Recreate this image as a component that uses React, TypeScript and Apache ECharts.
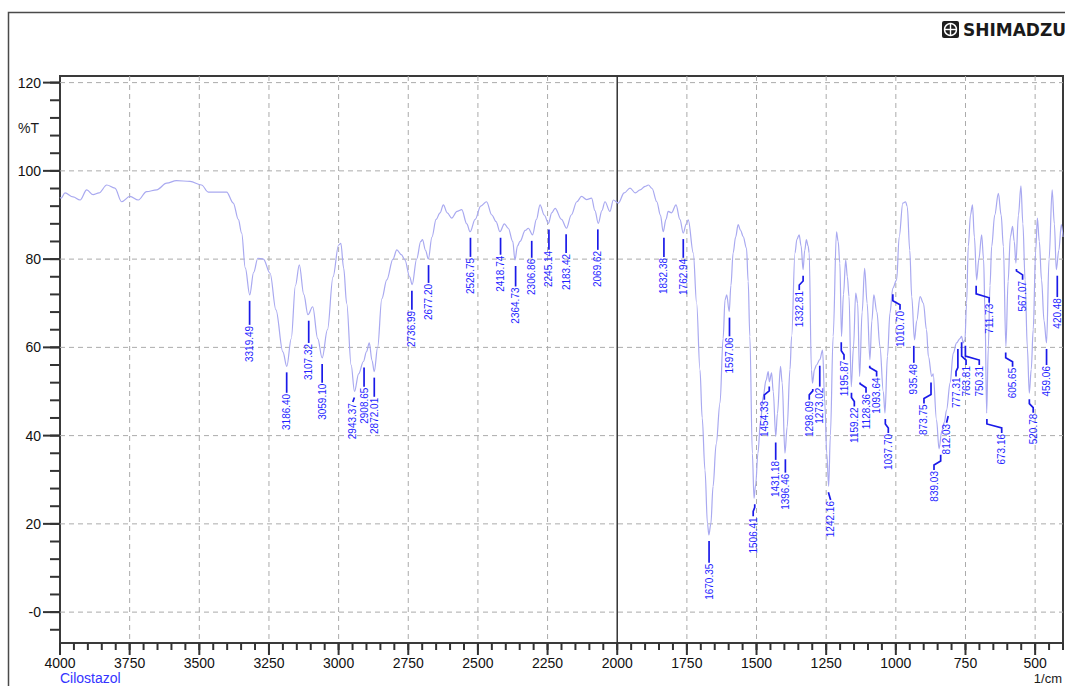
import React, { useEffect, useRef } from 'react';
import * as echarts from 'echarts';

// ---- Spectrum (wavenumber 1/cm, %T) ----
const spectrum: [number, number][] = [
  [4000, 94.0], [3996, 93.8], [3982, 95.0], [3953, 94.1], [3928, 93.4], [3904, 95.7], [3881, 94.6], [3860, 95.0],
  [3832, 96.8], [3803, 96.1], [3779, 93.0], [3749, 94.2], [3719, 93.4], [3689, 95.3], [3653, 95.7], [3617, 97.2],
  [3582, 97.8], [3533, 97.6], [3492, 96.8], [3468, 95.2], [3402, 95.2], [3378, 92.7], [3360, 89.0], [3348, 85.9],
  [3335, 78.0], [3319, 71.9], [3305, 77.0], [3290, 80.2], [3270, 80.0], [3246, 76.8], [3225, 68.5], [3200, 59.0],
  [3186, 55.7], [3170, 62.0], [3155, 74.0], [3141, 78.7], [3125, 72.0], [3110, 67.4], [3093, 69.2], [3075, 62.0],
  [3059, 57.6], [3040, 64.0], [3020, 76.0], [3000, 83.2], [2992, 83.6], [2982, 78.0], [2971, 70.0], [2955, 56.0],
  [2943, 50.0], [2928, 54.0], [2911, 56.8], [2900, 59.0], [2890, 61.0], [2880, 57.0], [2872, 54.5], [2860, 60.0],
  [2845, 71.0], [2827, 75.3], [2805, 80.0], [2791, 82.1], [2775, 81.0], [2762, 79.8], [2745, 76.0], [2736, 74.2],
  [2720, 80.0], [2705, 84.0], [2699, 84.4], [2688, 82.0], [2678, 80.0], [2665, 85.0], [2650, 89.0], [2636, 90.5],
  [2624, 92.3], [2610, 90.5], [2594, 89.3], [2575, 90.8], [2558, 91.2], [2540, 88.0], [2528, 86.2], [2510, 89.0],
  [2490, 92.0], [2469, 93.0], [2450, 90.0], [2435, 88.5], [2421, 86.2], [2405, 88.0], [2391, 87.0], [2375, 84.0],
  [2367, 79.8], [2358, 83.0], [2349, 84.0], [2330, 86.5], [2319, 87.0], [2304, 85.5], [2290, 89.0], [2277, 92.3],
  [2262, 90.0], [2247, 88.1], [2235, 90.5], [2223, 91.5], [2200, 89.0], [2182, 87.0], [2165, 90.0], [2145, 93.0],
  [2128, 94.2], [2110, 93.5], [2092, 93.8], [2080, 91.0], [2068, 88.1], [2055, 91.0], [2044, 93.0], [2026, 90.8],
  [2014, 93.4], [1996, 92.7], [1975, 95.0], [1954, 96.1], [1935, 95.0], [1918, 95.7], [1900, 96.5], [1888, 96.8],
  [1875, 96.0], [1858, 93.0], [1845, 90.0], [1835, 86.2], [1825, 89.0], [1817, 90.8], [1805, 90.5], [1789, 92.3],
  [1775, 89.0], [1763, 85.9], [1752, 88.0], [1745, 88.9], [1727, 81.4], [1715, 70.0], [1703, 54.9], [1695, 44.0],
  [1685, 32.2], [1676, 20.0], [1671, 17.5], [1664, 20.0], [1656, 28.5], [1645, 38.0], [1631, 47.4], [1620, 62.0],
  [1613, 70.8], [1607, 71.9], [1598, 68.1], [1592, 74.0], [1584, 81.4], [1575, 85.0], [1566, 87.8], [1557, 86.5],
  [1548, 85.1], [1536, 82.5], [1530, 75.0], [1524, 62.5], [1515, 36.0], [1509, 25.8], [1503, 29.0], [1495, 36.0],
  [1486, 43.0], [1476, 48.9], [1466, 52.5], [1458, 54.5], [1454, 52.2], [1446, 54.2], [1440, 50.0], [1431, 39.8],
  [1425, 45.0], [1414, 55.7], [1408, 52.0], [1398, 36.0], [1390, 42.0], [1380, 55.0], [1374, 62.5], [1362, 81.4],
  [1355, 84.5], [1347, 85.5], [1340, 83.0], [1333, 77.6], [1327, 82.0], [1321, 84.4], [1315, 83.0], [1311, 81.4],
  [1303, 54.9], [1299, 51.9], [1292, 55.0], [1285, 56.0], [1273, 57.2], [1263, 59.4], [1255, 47.4], [1248, 36.0],
  [1241, 28.5], [1235, 40.0], [1225, 62.5], [1213, 86.2], [1207, 84.0], [1201, 79.1], [1195, 62.5], [1188, 72.0],
  [1180, 79.8], [1174, 76.0], [1168, 71.5], [1160, 51.1], [1152, 60.0], [1144, 72.3], [1137, 70.0], [1130, 53.4],
  [1121, 68.0], [1112, 77.9], [1103, 70.0], [1093, 57.2], [1086, 66.0], [1079, 71.9], [1068, 68.0], [1057, 60.2],
  [1045, 50.0], [1039, 45.1], [1030, 58.0], [1021, 67.8], [1011, 73.4], [997, 75.3], [988, 85.0], [975, 92.7],
  [965, 93.0], [959, 91.9], [950, 82.0], [943, 71.5], [933, 61.7], [925, 66.0], [913, 71.5], [901, 70.0],
  [890, 64.0], [883, 57.9], [871, 53.4], [866, 54.0], [854, 43.6], [845, 37.0], [835, 41.0], [826, 43.0],
  [818, 45.8], [805, 52.0], [794, 58.7], [782, 61.0], [770, 62.0], [764, 62.5], [758, 61.0], [752, 61.7],
  [746, 70.0], [740, 82.9], [732, 90.0], [725, 92.3], [718, 85.0], [710, 75.3], [702, 80.0], [692, 85.5],
  [685, 80.0], [680, 67.8], [674, 45.1], [668, 60.0], [662, 74.0], [656, 82.9], [645, 90.0], [632, 94.9],
  [622, 90.0], [614, 82.9], [605, 60.2], [597, 75.0], [589, 85.0], [581, 87.4], [575, 84.0], [569, 79.1],
  [560, 90.0], [551, 96.6], [544, 88.0], [536, 75.3], [528, 60.0], [521, 49.6], [514, 55.0], [507, 64.0],
  [498, 82.0], [492, 89.3], [485, 84.0], [477, 75.3], [468, 66.0], [459, 61.0], [450, 80.0], [439, 95.7],
  [431, 88.0], [424, 77.6], [415, 82.0], [406, 87.8], [400, 85.0],
];

// ---- Peak picks ----
const peakWn = [
  3319.49, 3186.4, 3107.32, 3059.1, 2943.37, 2908.65, 2872.01, 2736.99, 2677.2, 2526.75, 2418.74, 2364.73,
  2306.86, 2245.14, 2183.42, 2069.62, 1832.38, 1762.94, 1670.35, 1597.06, 1506.41, 1454.33, 1431.18, 1396.46,
  1332.81, 1298.09, 1273.02, 1242.16, 1195.87, 1159.22, 1128.36, 1093.64, 1037.7, 1010.7, 935.48, 873.75,
  839.03, 812.03, 777.31, 763.81, 750.31, 711.73, 673.16, 605.65, 567.07, 520.78, 459.06, 420.48,
];
const peakT = [
  71.9, 55.7, 67.4, 57.6, 50.0, 56.8, 54.5, 74.2, 80.0, 86.2, 86.2, 79.8,
  85.5, 88.1, 87.0, 88.1, 86.2, 85.9, 17.5, 68.1, 25.8, 52.5, 39.8, 36.0,
  77.6, 51.9, 57.2, 28.5, 62.5, 51.1, 53.4, 57.2, 45.1, 73.4, 61.7, 53.4,
  37.0, 45.8, 61.0, 62.5, 61.7, 75.3, 45.1, 60.2, 79.1, 49.6, 61.0, 77.6,
];
// label anchor (where the leader meets the text), in axis units
const labelAnchorWn = [
  3319.49, 3186.4, 3107.32, 3059.1, 2949, 2908.65, 2869.5, 2736.99, 2677.2, 2526.75, 2418.74, 2364.73,
  2306.86, 2245.14, 2183.42, 2069.62, 1832.38, 1762.94, 1670.35, 1597.06, 1512, 1472, 1431.18, 1396.46,
  1346.6, 1310.7, 1273.02, 1234, 1186, 1149, 1107, 1069, 1027, 985, 935.48, 899,
  863, 818, 784, 748, 700.6, 665, 620, 581, 545, 507, 459.06, 420.48,
];
const labelAnchorT = [
  65.1, 49.7, 61.0, 52.0, 47.6, 51.1, 48.8, 68.5, 74.6, 80.5, 81.0, 73.8,
  80.3, 82.1, 81.4, 82.1, 80.5, 80.3, 11.2, 62.5, 21.7, 48.1, 34.5, 31.6,
  73.0, 48.1, 51.1, 25.4, 57.2, 46.6, 49.7, 53.4, 40.6, 68.5, 56.5, 47.3,
  32.2, 42.9, 53.4, 56.0, 56.0, 70.1, 40.6, 55.6, 75.3, 45.2, 56.0, 71.4,
];

// ---- Axes ----
const X_MIN = 400;
const X_MAX = 4000;
const Y_MIN = -7;
const Y_MAX = 121.5;
const xTicks = [4000, 3750, 3500, 3250, 3000, 2750, 2500, 2250, 2000, 1750, 1500, 1250, 1000, 750, 500];
const xTickLabels = ['4000', '3750', '3500', '3250', '3000', '2750', '2500', '2250', '2000', '1750', '1500', '1250', '1000', '750', '500'];
const yTicks = [0, 20, 40, 60, 80, 100, 120];
const yTickLabels = ['-0', '20', '40', '60', '80', '100', '120'];
const X_MINOR_STEP = 50;
const Y_MINOR_STEP = 4;

const FONT = '"Liberation Sans", Arial, sans-serif';
const LABEL_BLUE = '#1f1fff';
const LINE_BLUE = '#1a1ae8';

export default function App() {
  const ref = useRef<HTMLDivElement>(null);

  useEffect(() => {
    if (!ref.current) return;
    const chart = echarts.init(ref.current, undefined, { renderer: 'svg' });

    const xMinor: number[][] = [];
    for (let v = X_MAX; v >= X_MIN; v -= X_MINOR_STEP) xMinor.push([v, Y_MIN]);
    const yMinor: number[][] = [];
    for (let v = -4; v <= 120; v += Y_MINOR_STEP) yMinor.push([X_MAX, v]);

    const option: any = {
      animation: false,
      grid: {
        left: 60, right: 2, top: 76, bottom: 43,
        show: true, borderColor: '#3a3a3a', borderWidth: 2, backgroundColor: 'transparent',
      },
      xAxis: {
        type: 'value', min: X_MIN, max: X_MAX, inverse: true, show: false,
        splitLine: { show: false },
      },
      yAxis: {
        type: 'value', min: Y_MIN, max: Y_MAX, show: false,
        splitLine: { show: false },
      },
      graphic: [
        {
          type: 'rect', z: -10, silent: true,
          shape: { x: 8.5, y: 12.5, width: 1200, height: 800 },
          style: { fill: 'none', stroke: '#4a4a4a', lineWidth: 1.5 },
        },
        {
          type: 'group', left: 942, top: 21,
          children: [
            { type: 'rect', shape: { x: 0, y: 0, width: 17, height: 17, r: 2 }, style: { fill: '#1e1e1e' } },
            { type: 'circle', shape: { cx: 8.5, cy: 8.5, r: 6 }, style: { fill: 'none', stroke: '#fff', lineWidth: 1.4 } },
            { type: 'line', shape: { x1: 2.5, y1: 8.5, x2: 14.5, y2: 8.5 }, style: { stroke: '#fff', lineWidth: 1.4 } },
            { type: 'line', shape: { x1: 8.5, y1: 2.5, x2: 8.5, y2: 14.5 }, style: { stroke: '#fff', lineWidth: 1.4 } },
          ],
        },
        {
          type: 'text', x: 963, y: 30,
          style: { text: 'SHIMADZU', fill: '#1a1a1a', font: '900 17px "DejaVu Sans", sans-serif', verticalAlign: 'middle' },
        },
        {
          type: 'text', x: 18, y: 128,
          style: { text: '%T', fill: '#1a1a1a', font: `14px ${FONT}`, verticalAlign: 'middle' },
        },
        {
          type: 'text', x: 60, y: 678,
          style: { text: 'Cilostazol', fill: '#3434ff', font: `14px ${FONT}`, verticalAlign: 'middle' },
        },
        {
          type: 'text', x: 1062, y: 678.5,
          style: { text: '1/cm', fill: '#1a1a1a', font: `13px ${FONT}`, align: 'right', verticalAlign: 'middle' },
        },
      ],
      series: [
        {
          name: 'xgrid', type: 'custom', z: 1, silent: true,
          data: xTicks.map((v, i) => [v, Y_MIN, i]),
          renderItem: (params: any, api: any) => {
            const v = api.value(0);
            const idx = api.value(2);
            const top = api.coord([v, Y_MAX]);
            const bot = api.coord([v, Y_MIN]);
            const children: any[] = [];
            if (v === 2000) {
              children.push({ type: 'line', shape: { x1: top[0], y1: top[1], x2: bot[0], y2: bot[1] }, style: { stroke: '#333', lineWidth: 1.5 } });
            } else if (v !== X_MAX) {
              children.push({ type: 'line', shape: { x1: top[0], y1: top[1], x2: bot[0], y2: bot[1] }, style: { stroke: '#ababab', lineWidth: 1, lineDash: [5, 4] } });
            }
            children.push({ type: 'line', shape: { x1: bot[0], y1: bot[1], x2: bot[0], y2: bot[1] + 12 }, style: { stroke: '#333', lineWidth: 2 } });
            children.push({ type: 'text', x: bot[0], y: bot[1] + 20, style: { text: xTickLabels[idx], fill: '#111', font: `14px ${FONT}`, align: 'center', verticalAlign: 'middle' } });
            return { type: 'group', children };
          },
        },
        {
          name: 'ygrid', type: 'custom', z: 1, silent: true,
          data: yTicks.map((v, i) => [X_MAX, v, i]),
          renderItem: (params: any, api: any) => {
            const v = api.value(1);
            const idx = api.value(2);
            const l = api.coord([X_MAX, v]);
            const r = api.coord([X_MIN, v]);
            return {
              type: 'group',
              children: [
                { type: 'line', shape: { x1: l[0], y1: l[1], x2: r[0], y2: r[1] }, style: { stroke: '#ababab', lineWidth: 1, lineDash: [5, 4] } },
                { type: 'line', shape: { x1: l[0] - 17, y1: l[1], x2: l[0], y2: l[1] }, style: { stroke: '#333', lineWidth: 2 } },
                { type: 'text', x: l[0] - 19, y: l[1], style: { text: yTickLabels[idx], fill: '#111', font: `14px ${FONT}`, align: 'right', verticalAlign: 'middle' } },
              ],
            };
          },
        },
        {
          name: 'xminor', type: 'custom', z: 1, silent: true,
          data: xMinor,
          renderItem: (params: any, api: any) => {
            const p = api.coord([api.value(0), Y_MIN]);
            return { type: 'line', shape: { x1: p[0], y1: p[1], x2: p[0], y2: p[1] + 7 }, style: { stroke: '#333', lineWidth: 2 } };
          },
        },
        {
          name: 'yminor', type: 'custom', z: 1, silent: true,
          data: yMinor,
          renderItem: (params: any, api: any) => {
            const p = api.coord([X_MAX, api.value(1)]);
            return { type: 'line', shape: { x1: p[0] - 10, y1: p[1], x2: p[0], y2: p[1] }, style: { stroke: '#333', lineWidth: 2 } };
          },
        },
        {
          name: 'Cilostazol', type: 'line', z: 3,
          data: spectrum,
          showSymbol: false,
          smooth: 0.35,
          smoothMonotone: 'x',
          lineStyle: { color: '#a9a9f0', width: 1.2 },
          silent: true,
        },
        {
          name: 'peaks', type: 'custom', z: 4, silent: true,
          data: peakWn.map((w, i) => [w, peakT[i], labelAnchorWn[i], labelAnchorT[i]]),
          renderItem: (params: any, api: any) => {
            const wn = api.value(0);
            const p = api.coord([wn, api.value(1)]);
            const l = api.coord([api.value(2), api.value(3)]);
            const x0 = p[0];
            const y0 = p[1] + 6;
            const lx = l[0];
            const ly = l[1];
            let pts: number[][];
            if (Math.abs(lx - x0) < 1) {
              pts = [[x0, y0], [x0, ly]];
            } else if (ly - 9 > y0) {
              pts = [[x0, y0], [x0, ly - 9], [lx, ly - 5], [lx, ly]];
            } else {
              pts = [[x0, y0], [lx, ly]];
            }
            return {
              type: 'group',
              children: [
                { type: 'polyline', shape: { points: pts }, style: { stroke: LINE_BLUE, lineWidth: 1.7, fill: 'none' } },
                {
                  type: 'text', x: lx, y: ly + 1, rotation: Math.PI / 2,
                  style: { text: wn.toFixed(2), fill: LABEL_BLUE, font: `10px ${FONT}`, align: 'right', verticalAlign: 'middle' },
                },
              ],
            };
          },
        },
      ],
    };

    chart.setOption(option);
    return () => chart.dispose();
  }, []);

  return <div ref={ref} style={{ position: 'absolute', left: 0, top: 0, width: 1065, height: 686, background: '#fff' }} />;
}
